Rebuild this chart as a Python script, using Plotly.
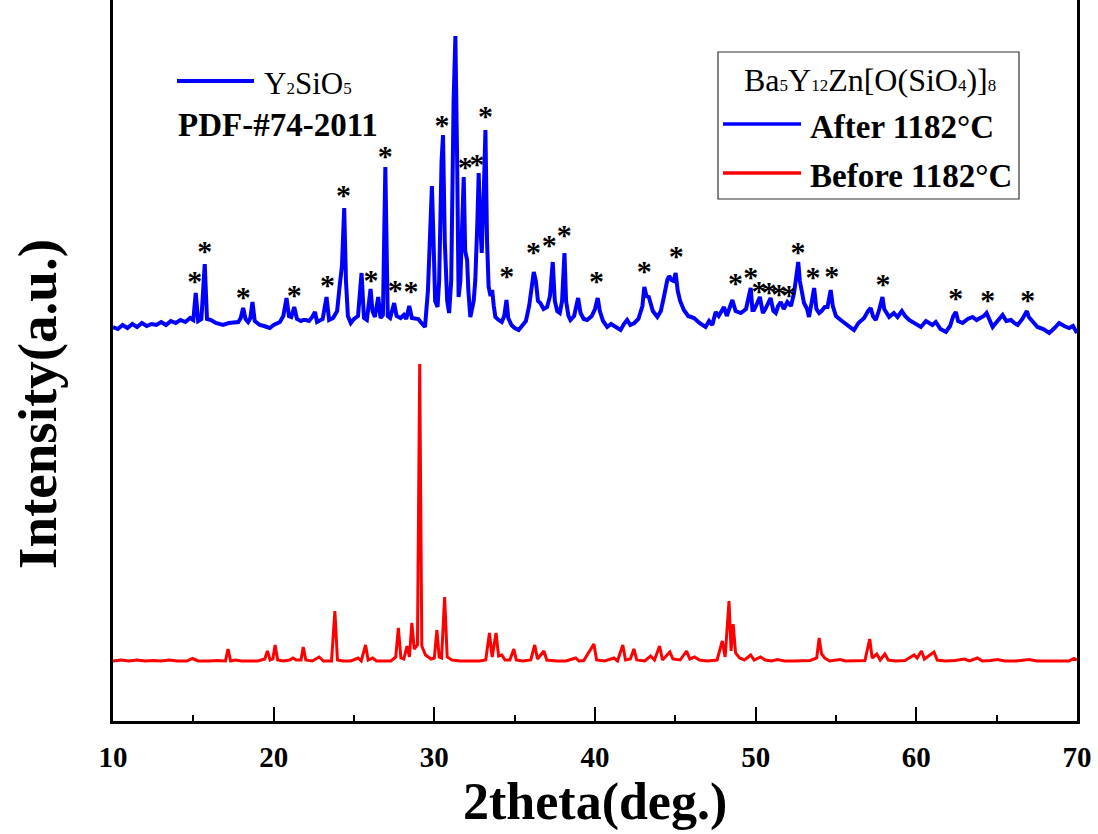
import plotly.graph_objects as go

# ---------------- data ----------------
# After 1182 C (blue) : 2theta (deg), intensity (a.u.)
after_x = [10.0, 10.3, 10.6, 10.9, 11.2, 11.5, 11.8, 12.1, 12.4, 12.7, 13.0, 13.3, 13.6, 13.9, 14.2, 14.5, 14.8, 15.0,
           15.15, 15.3, 15.5, 15.71, 15.85, 16.1, 16.4, 16.85, 17.2, 17.48, 17.8, 17.95, 18.1, 18.25, 18.41, 18.55,
           18.68, 18.82, 19.0, 19.14, 19.4, 19.76, 20.0, 20.39, 20.6, 20.8, 20.95, 21.1, 21.28, 21.45, 21.7, 21.84,
           22.0, 22.2, 22.4, 22.57, 22.7, 22.9, 23.05, 23.29, 23.45, 23.7, 23.95, 24.1, 24.25, 24.39, 24.5, 24.62,
           24.8, 25.0, 25.25, 25.47, 25.62, 25.8, 26.03, 26.15, 26.3, 26.51, 26.65, 26.8, 26.95, 27.1, 27.25, 27.5,
           27.65, 27.9, 28.1, 28.25, 28.44, 28.6, 28.8, 29.0, 29.2, 29.42, 29.6, 29.75, 29.85, 29.95, 30.05, 30.2,
           30.3, 30.45, 30.54, 30.65, 30.8, 30.92, 31.05, 31.2, 31.31, 31.42, 31.51, 31.62, 31.75, 31.83, 31.92,
           32.04, 32.12, 32.24, 32.45, 32.55, 32.68, 32.76, 32.85, 32.95, 33.08, 33.18, 33.28, 33.38, 33.5, 33.6,
           33.7, 33.8, 34.0, 34.2, 34.35, 34.49, 34.6, 34.8, 35.0, 35.25, 35.45, 35.7, 35.9, 36.05, 36.19, 36.32,
           36.45, 36.6, 36.8, 37.02, 37.2, 37.37, 37.5, 37.65, 37.81, 37.95, 38.1, 38.2, 38.35, 38.47, 38.7, 38.95,
           39.1, 39.3, 39.51, 39.8, 40.0, 40.17, 40.3, 40.5, 40.76, 41.0, 41.2, 41.4, 41.59, 41.8, 42.0, 42.2,
           42.45, 42.7, 42.95, 43.07, 43.2, 43.35, 43.6, 43.88, 44.1, 44.3, 44.5, 44.62, 44.75, 44.9, 45.02, 45.15,
           45.3, 45.53, 45.8, 46.16, 46.5, 46.88, 47.1, 47.3, 47.51, 47.7, 48.03, 48.2, 48.35, 48.55, 48.75, 49.07,
           49.4, 49.55, 49.69, 49.8, 49.89, 50.1, 50.26, 50.45, 50.6, 50.93, 51.1, 51.25, 51.4, 51.56, 51.75, 51.97,
           52.2, 52.39, 52.55, 52.65, 52.75, 53.01, 53.2, 53.32, 53.5, 53.64, 53.78, 53.95, 54.1, 54.3, 54.47, 54.67,
           54.8, 55.0, 55.29, 55.6, 55.85, 56.12, 56.4, 56.75, 57.0, 57.16, 57.3, 57.48, 57.7, 57.89, 58.0, 58.31,
           58.6, 58.83, 59.1, 59.3, 59.55, 59.9, 60.28, 60.6, 61.0, 61.21, 61.5, 61.84, 62.1, 62.3, 62.46, 62.6,
           62.88, 63.2, 63.5, 63.75, 64.02, 64.2, 64.37, 64.55, 64.75, 65.0, 65.37, 65.6, 65.89, 66.1, 66.31, 66.6,
           66.88, 67.0, 67.2, 67.54, 67.9, 68.27, 68.6, 68.89, 69.2, 69.51, 69.75, 70.0]
after_y = [394, 392, 396, 393, 397, 394, 398, 395, 397, 396, 399, 396, 400, 398, 401, 399, 403, 401,
           428, 400, 402, 457, 402, 401, 398, 396, 398, 398, 399, 403, 413, 402, 399, 403,
           419, 400, 397, 396, 395, 393, 396, 399, 405, 423, 405, 404, 414, 402, 400, 401,
           401, 400, 404, 409, 399, 401, 402, 424, 401, 403, 410, 434, 455, 513, 440, 405,
           398, 402, 405, 448, 403, 401, 432, 410, 404, 424, 403, 406, 554, 405, 403, 418,
           405, 403, 406, 402, 415, 403, 403, 402, 398, 394, 430, 500, 535, 480, 420, 414,
           440, 560, 586, 480, 420, 408, 440, 620, 685, 560, 424, 440, 520, 544, 470,
           461, 430, 404, 420, 441, 500, 548, 500, 468, 530, 591, 480, 434, 425, 431,
           415, 404, 401, 399, 405, 421, 403, 396, 393, 391, 395, 400, 415, 435, 449, 440,
           420, 418, 412, 414, 425, 459, 420, 410, 408, 420, 468, 420, 405, 401, 405, 423,
           408, 402, 401, 405, 412, 423, 410, 400, 394, 397, 395, 393, 391, 397, 401, 396,
           398, 402, 415, 434, 425, 424, 410, 404, 410, 425, 441, 445, 441, 440, 448, 430,
           420, 411, 405, 403, 398, 394, 400, 396, 409, 405, 414, 405, 412, 421, 410, 408,
           412, 425, 433, 411, 411, 418, 424, 408, 412, 423, 410, 408, 415, 419, 412, 419,
           415, 428, 450, 459, 440, 418, 412, 404, 420, 433, 412, 408, 410, 414, 414, 431,
           415, 405, 401, 397, 394, 391, 398, 403, 410, 413, 405, 401, 412, 424, 412, 404,
           408, 404, 410, 405, 401, 398, 394, 400, 396, 399, 392, 389, 395, 405, 409, 400,
           398, 402, 404, 401, 403, 405, 408, 400, 394, 399, 406, 400, 401, 398, 396, 402,
           410, 404, 400, 394, 392, 388, 393, 398, 395, 393, 395, 388]

# Before 1182 C (red)
before_x = [10.0, 10.5, 11.0, 11.5, 12.0, 12.5, 13.0, 13.5, 14.0, 14.6, 14.94, 15.3, 16.0, 16.5, 17.0, 17.16, 17.32,
            17.6, 18.0, 18.5, 19.0, 19.45, 19.61, 19.78, 19.95, 20.09, 20.25, 20.6, 21.0, 21.2, 21.4, 21.7, 21.84,
            22.0, 22.4, 22.83, 23.1, 23.6, 23.81, 23.97, 24.3, 24.8, 25.26, 25.45, 25.72, 25.88, 26.16, 26.4, 26.9,
            27.3, 27.6, 27.76, 27.92, 28.1, 28.3, 28.45, 28.6, 28.75, 28.95, 29.09, 29.22, 29.45, 29.8, 30.0, 30.16,
            30.3, 30.45, 30.64, 30.8, 31.1, 31.6, 32.2, 32.8, 33.2, 33.43, 33.6, 33.84, 34.0, 34.2, 34.4, 34.7,
            34.95, 35.1, 35.5, 36.0, 36.25, 36.42, 36.82, 37.0, 37.6, 38.2, 38.8, 39.0, 39.3, 39.93, 40.1, 40.6,
            41.18, 41.4, 41.73, 41.9, 42.2, 42.42, 42.6, 43.1, 43.46, 43.7, 44.02, 44.2, 44.66, 44.85, 45.3, 45.7,
            45.9, 46.2, 46.5, 47.0, 47.6, 47.92, 48.1, 48.34, 48.47, 48.6, 48.75, 49.0, 49.3, 49.69, 49.9, 50.3,
            50.6, 51.0, 51.35, 51.8, 52.4, 52.9, 53.4, 53.8, 53.95, 54.1, 54.3, 54.6, 55.25, 55.6, 56.2, 56.8,
            57.1, 57.25, 57.54, 57.75, 58.04, 58.25, 58.7, 59.3, 59.86, 60.05, 60.32, 60.5, 61.1, 61.3, 61.8, 62.4,
            63.0, 63.3, 63.81, 64.1, 64.6, 65.05, 65.5, 66.2, 67.03, 67.5, 68.2, 69.0, 69.5, 69.8, 70.0]
before_y = [60, 61, 60, 61, 60, 60.5, 60, 61, 60, 60, 62.5, 60, 60, 60.5, 60, 72, 60,
            61, 60, 60, 60, 62, 70, 61, 62, 76, 61, 60, 61, 63, 61, 61, 74,
            61, 60, 64, 60, 60, 110, 61, 60, 60, 63, 60, 76, 61, 63, 60, 60,
            60, 64, 93, 63, 62, 75, 64, 98, 72, 76, 357, 75, 66, 62, 63, 91,
            64, 63, 124, 64, 61, 60, 60, 60, 61, 88, 64, 88, 65, 66, 61, 61,
            72, 61, 60, 61, 76, 62, 70, 61, 60, 60, 63, 60, 60.5, 77, 61, 60,
            63, 60, 76, 61, 62, 72, 61, 60, 65, 61, 75, 61, 69, 62, 61, 70,
            62, 64, 61, 60, 61, 80, 64, 120, 70, 97, 68, 63, 61, 66, 61, 64,
            61, 60, 61.5, 60, 60, 60, 60.5, 63, 83, 67, 63, 60, 61.5, 60, 60, 60.5,
            82, 63, 67, 61, 67, 61, 60, 60.5, 66, 63, 70, 62, 69, 61, 60, 60.5,
            62, 60, 63, 60, 60.5, 61.5, 60, 60, 61.5, 60, 60, 60, 60, 62.5, 61]

# Y2SiO5 reflections marked with '*'
star_x = [15.09, 15.71, 18.1, 21.28, 23.35, 24.35, 26.06, 26.95, 27.57, 28.55, 30.48, 31.93, 32.66, 33.18,
          34.5, 36.17, 37.15, 38.08, 40.09, 43.07, 45.06, 48.75, 49.69, 50.21, 50.83, 51.45, 52.07, 52.64,
          53.57, 54.74, 57.93, 62.46, 64.44, 66.93]
star_y = [438, 468, 422, 424, 434, 524, 439, 563, 429, 428, 594, 552, 555, 603,
          443, 467, 474, 484, 438, 448, 463, 436, 442, 428, 427, 425, 424, 467,
          442, 443, 435, 421, 419, 419]

x_ticks = [10, 20, 30, 40, 50, 60, 70]
x_tick_labels = ["10", "20", "30", "40", "50", "60", "70"]

FONT = "Liberation Serif"
W, H = 1098, 834
L, R, T, B = 113, 1077, 0, 721  # plot area in pixels


def pxx(p):
    return (p - L) / (R - L)


def pxy(p):
    return (B - p) / (B - T)


def small(s, size):
    return '<span style="font-size:%dpx">%s</span>' % (size, s)


fig = go.Figure()
fig.add_trace(go.Scatter(x=before_x, y=before_y, mode="lines",
                         line=dict(color="#FF0000", width=3), showlegend=False))
fig.add_trace(go.Scatter(x=after_x, y=after_y, mode="lines",
                         line=dict(color="#0000FF", width=4), showlegend=False))
fig.add_trace(go.Scatter(x=star_x, y=star_y, mode="text", text=["*"] * len(star_x),
                         textposition="middle center",
                         textfont=dict(family=FONT, size=30, color="black", weight="bold"),
                         showlegend=False))

shapes = [
    # Y2SiO5 key line
    dict(type="line", xref="paper", yref="paper", x0=pxx(177), x1=pxx(254), y0=pxy(81), y1=pxy(81),
         line=dict(color="#0000FF", width=4)),
    # legend box
    dict(type="rect", xref="paper", yref="paper", x0=pxx(718), x1=pxx(1019), y0=pxy(52), y1=pxy(199),
         line=dict(color="#333333", width=1.2), fillcolor="rgba(255,255,255,0)"),
    dict(type="line", xref="paper", yref="paper", x0=pxx(723), x1=pxx(801), y0=pxy(124), y1=pxy(124),
         line=dict(color="#0000FF", width=3.5)),
    dict(type="line", xref="paper", yref="paper", x0=pxx(723), x1=pxx(801), y0=pxy(173), y1=pxy(173),
         line=dict(color="#FF0000", width=3.5)),
]

annotations = [
    dict(text="Y" + small("2", 17) + "SiO" + small("5", 17), xref="paper", yref="paper",
         x=pxx(262), y=pxy(84), xanchor="left", yanchor="middle", showarrow=False,
         font=dict(family=FONT, size=31, color="black")),
    dict(text="<b>PDF-#74-2011</b>", xref="paper", yref="paper", x=pxx(176), y=pxy(125),
         xanchor="left", yanchor="middle", showarrow=False,
         font=dict(family=FONT, size=33, color="black")),
    dict(text="Ba" + small("5", 17) + "Y" + small("12", 17) + "Zn[O(SiO" + small("4", 17) + ")]" + small("8", 17),
         xref="paper", yref="paper", x=pxx(742), y=pxy(80), xanchor="left", yanchor="middle",
         showarrow=False, font=dict(family=FONT, size=32, color="black")),
    dict(text="<b>After 1182°C</b>", xref="paper", yref="paper", x=pxx(808), y=pxy(127),
         xanchor="left", yanchor="middle", showarrow=False,
         font=dict(family=FONT, size=33, color="black")),
    dict(text="<b>Before 1182°C</b>", xref="paper", yref="paper", x=pxx(808), y=pxy(176),
         xanchor="left", yanchor="middle", showarrow=False,
         font=dict(family=FONT, size=33, color="black")),
    dict(text="<b>2theta(deg.)</b>", xref="paper", yref="paper", x=pxx(595), y=pxy(802),
         xanchor="center", yanchor="middle", showarrow=False,
         font=dict(family=FONT, size=52, color="black")),
    dict(text="<b>Intensity(a.u.)</b>", xref="paper", yref="paper", x=pxx(37), y=pxy(404),
         xanchor="center", yanchor="middle", textangle=-90, showarrow=False,
         font=dict(family=FONT, size=55, color="black")),
]

fig.update_layout(
    width=W, height=H,
    margin=dict(l=L, r=W - R, t=T, b=H - B, pad=0),
    paper_bgcolor="white", plot_bgcolor="white",
    shapes=shapes, annotations=annotations,
    showlegend=False,
)
fig.update_xaxes(range=[10, 70], tickmode="array", tickvals=x_ticks, ticktext=x_tick_labels,
                 ticks="inside", ticklen=14, tickwidth=2, tickcolor="black",
                 minor=dict(ticks="inside", ticklen=6, tickwidth=2, dtick=5, tickcolor="black"),
                 showline=True, linecolor="black", linewidth=2.5, mirror=False,
                 showgrid=False, zeroline=False, ticklabelstandoff=8,
                 tickfont=dict(family=FONT, size=29, color="black", weight="bold"))
fig.update_yaxes(range=[0, 721], showticklabels=False, ticks="",
                 showline=True, linecolor="black", linewidth=2.5, mirror=True,
                 showgrid=False, zeroline=False)

fig.write_html("out.html")
